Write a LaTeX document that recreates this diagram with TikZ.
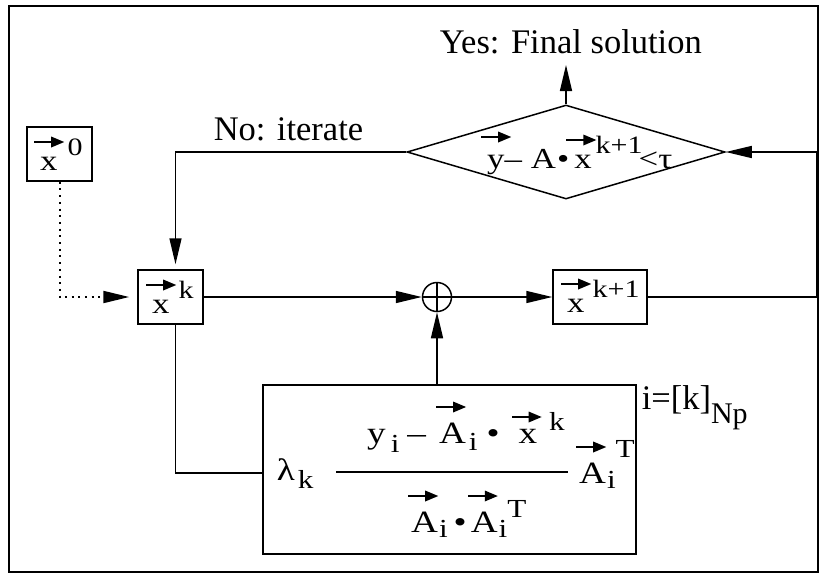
\documentclass[tikz,border=0pt]{standalone}
\usepackage{fontspec}
\setmainfont{Liberation Serif}
\newfontfamily\ffam[FakeStretch=1.2]{Liberation Serif}
\usetikzlibrary{arrows.meta,shapes.geometric,calc}
\newcommand\fbig{\ffam\fontsize{29}{33}\selectfont}
\newcommand\fsml{\ffam\fontsize{25}{29}\selectfont}
\newcommand\fbb{\ffam\fontsize{31}{35}\selectfont}
\newcommand\fsb{\ffam\fontsize{26}{30}\selectfont}
\newcommand\lbl{\fontsize{34.5}{40}\selectfont}
\newcommand\vecar[3]{\leavevmode\rlap{\hspace*{#2}\raisebox{#1}{\tikz[baseline=0pt]{\fill[black] (0pt,-1.1pt) rectangle (18pt,1.1pt); \fill[black] (17pt,-5.5pt)--(30pt,0pt)--(17pt,5.5pt)--cycle;}}}#3}
\newcommand\supr[2]{\raisebox{#1}{\fsml #2}}
\newcommand\dnr[2]{\raisebox{-#1}{\fsml #2}}
\newcommand\suprb[2]{\raisebox{#1}{\fsb #2}}
\newcommand\dnrb[2]{\raisebox{-#1}{\fsb #2}}
\begin{document}
\begin{tikzpicture}[x=1pt,y=-1pt,line width=1.5pt,
  box/.style={draw,inner sep=0pt},
  arr/.style={-{Triangle[length=26pt,width=12pt]}},
  lab/.style={inner sep=0pt,anchor=base west}]
\useasboundingbox (0,0) rectangle (820,574);
\draw (9,6) rectangle (818,572);
% boxes
\node[box,minimum width=65pt,minimum height=54pt] (x0) at (59.5,154) {};
\node[box,minimum width=65pt,minimum height=54pt] (xk) at (170.5,297) {};
\node[box,minimum width=94pt,minimum height=54pt] (xk1) at (600,297) {};
\node[box,circle,minimum size=29pt] (op) at (437,297) {};
\draw (op.north) -- (op.south) (op.west) -- (op.east);
\node[box,diamond,minimum width=318pt,minimum height=94pt] (dia) at (566,152) {};
\node[box,minimum width=373pt,minimum height=169pt] (bot) at (449.5,469.5) {};
% labels
\node[lab] (lx0) at (40,170) {\fbig\vecar{28pt}{-6pt}{x}\kern10pt\supr{15pt}{0}};
\node[lab] (lxk) at (152,313) {\fbig\vecar{28pt}{-6pt}{x}\kern9pt\supr{15pt}{k}};
\node[lab] (lxk1) at (567,312) {\fbig\vecar{28pt}{-6pt}{x}\kern8pt\supr{15pt}{k+1}};
\node[lab] (ldia) at (487,168) {\fbig\vecar{31pt}{-6pt}{y}\kern0pt–\kern9pt A\kern1pt\textbullet\kern5pt\vecar{28pt}{-8pt}{x}\kern4pt\supr{15pt}{k+1}\kern-4pt<τ};
\node[lab] (yes) at (439,53) {\lbl Yes: Final solution};
\node[lab] (no) at (213,140) {\lbl No: iterate};
\node[lab] (idx) at (641,409) {\lbl i=[k]\raisebox{-14pt}{\fontsize{30}{34}\selectfont Np}};
\node[lab] (lam) at (276,480) {\fbb λ\kern3pt\dnrb{8pt}{k}};
\node[lab] (num) at (367,443) {\fbb y\kern5pt\dnrb{9pt}{i}\kern8pt–\kern13pt\vecar{36pt}{-3pt}{A}\kern3pt\dnrb{7pt}{i}\kern9pt\textbullet\kern19pt\vecar{26pt}{-7pt}{x}\kern12pt\suprb{13pt}{k}};
\node[lab] (den) at (411,532) {\fbb\vecar{36pt}{-3pt}{A}\kern1pt\dnrb{5pt}{i}\kern6pt\textbullet\kern4pt\vecar{36pt}{-3pt}{A}\kern1pt\dnrb{5pt}{i}\suprb{15pt}{T}};
\node[lab] (ait) at (579,483) {\fbb\vecar{36pt}{-3pt}{A}\kern1pt\dnrb{5pt}{i}\kern0pt\suprb{26pt}{T}};
\coordinate (fl) at (336,472);
\coordinate (fr) at (568,472);
\draw (fl) -- (fr);
% connectors
\coordinate (ytip) at (566,65);
\draw[arr] (dia.north) -- (ytip);
\draw[arr,shorten >=5pt] (dia.west) -| ([xshift=5pt]xk.north);
\draw[arr,line width=2pt,dash pattern=on 2pt off 4.7pt,shorten >=8pt] (x0.south) |- (xk.west);
\draw[arr] (xk.east) -- (op.west);
\draw[arr] (op.east) -- (xk1.west);
\draw[arr] (op |- bot.north) -- (op.south);
\draw[arr] (xk1.east) -- ++(169,0) |- (dia.east);
\draw ([xshift=5pt]xk.south) |- ([yshift=-3.5pt]bot.west);
\end{tikzpicture}
\end{document}
